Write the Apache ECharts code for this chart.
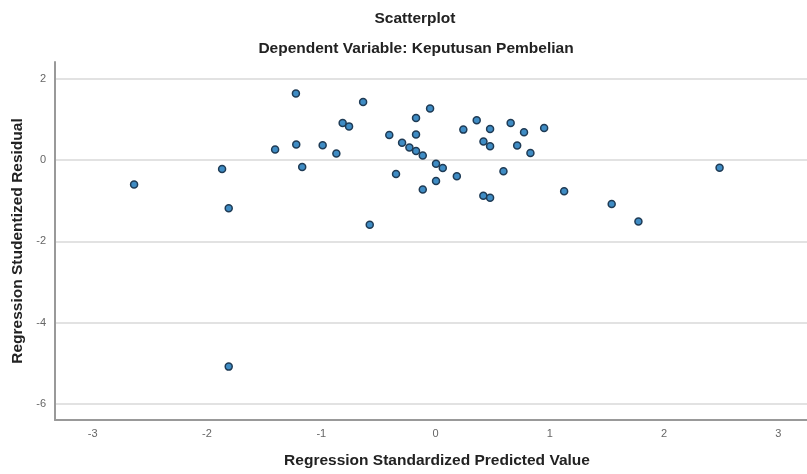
<!DOCTYPE html>
<html>
<head>
<meta charset="utf-8">
<script src="https://cdn.jsdelivr.net/npm/echarts@6/dist/echarts.min.js"></script>
<style>html,body{margin:0;padding:0;background:#fff}#c{width:807px;height:474px}</style>
</head>
<body>
<div id="c"></div>
<script>
const chartTitle = 'Scatterplot';
const chartSubtitle = 'Dependent Variable: Keputusan Pembelian';
const xAxisName = 'Regression Standardized Predicted Value';
const yAxisName = 'Regression Studentized Residual';

const predictedValues = [
  -2.638, -1.868, -1.81, -1.81, -1.404, -1.222, -1.219, -1.167, -0.988, -0.868,
  -0.813, -0.757, -0.634, -0.576, -0.405, -0.346, -0.293, -0.229, -0.171, -0.171,
  -0.171, -0.112, -0.112, -0.048, 0.004, 0.004, 0.063, 0.186, 0.243, 0.36,
  0.419, 0.418, 0.477, 0.477, 0.477, 0.594, 0.657, 0.714, 0.774, 0.83,
  0.95, 1.125, 1.541, 1.775, 2.485
];
const residuals = [
  -0.598, -0.215, -1.183, -5.085, 0.263, 1.646, 0.385, -0.167, 0.37, 0.166,
  0.915, 0.834, 1.434, -1.59, 0.624, -0.338, 0.428, 0.313, 1.04, 0.631,
  0.225, 0.117, -0.722, 1.277, -0.086, -0.509, -0.191, -0.396, 0.754, 0.984,
  0.46, -0.876, 0.771, 0.347, -0.925, -0.274, 0.917, 0.362, 0.69, 0.176,
  0.795, -0.763, -1.077, -1.508, -0.183
];
const xTicks = [-3, -2, -1, 0, 1, 2, 3];
const yTicks = [2, 0, -2, -4, -6];

const points = predictedValues.map((x, i) => [x, residuals[i]]);
const font = 'Liberation Sans, Arial, sans-serif';

const chart = echarts.init(document.getElementById('c'), null, {renderer: 'canvas'});
chart.setOption({
  animation: false,
  backgroundColor: '#ffffff',
  title: [
    {text: chartTitle, left: 410, top: 6, textAlign: 'center',
     textStyle: {fontFamily: font, fontSize: 15.5, fontWeight: 'bold', color: '#222'}},
    {text: chartSubtitle, left: 411, top: 36, textAlign: 'center',
     textStyle: {fontFamily: font, fontSize: 15.5, fontWeight: 'bold', color: '#222'}}
  ],
  grid: {left: 55, right: 0, top: 62, bottom: 50.5, containLabel: false},
  xAxis: {
    type: 'value', min: -3.33, max: 3.25,
    name: xAxisName, nameLocation: 'middle', nameGap: 33,
    nameTextStyle: {fontFamily: font, fontSize: 15.5, fontWeight: 'bold', color: '#222', padding: [0, 0, 0, 12]},
    axisLine: {show: true, onZero: false, lineStyle: {color: '#999', width: 2}},
    axisTick: {show: false},
    splitLine: {show: false},
    axisLabel: {
      fontFamily: font, fontSize: 11, color: '#666', margin: 8,
      customValues: xTicks,
      formatter: v => String(v)
    }
  },
  yAxis: {
    type: 'value', min: -6.4, max: 2.42,
    name: yAxisName, nameLocation: 'middle', nameGap: 29, nameRotate: 90,
    nameTextStyle: {fontFamily: font, fontSize: 15.5, fontWeight: 'bold', color: '#222'},
    axisLine: {show: true, onZero: false, lineStyle: {color: '#999', width: 2}},
    axisTick: {show: false, customValues: yTicks},
    splitLine: {show: true, lineStyle: {color: '#d9d9d9', width: 1.5}},
    axisLabel: {
      fontFamily: font, fontSize: 11, color: '#666', margin: 9,
      customValues: yTicks,
      formatter: v => String(v)
    }
  },
  series: [{
    type: 'scatter',
    data: points,
    symbol: 'circle',
    symbolSize: 7,
    itemStyle: {color: '#3f8cc4', borderColor: '#1f3b55', borderWidth: 1.5, opacity: 1}
  }]
});
</script>
</body>
</html>
